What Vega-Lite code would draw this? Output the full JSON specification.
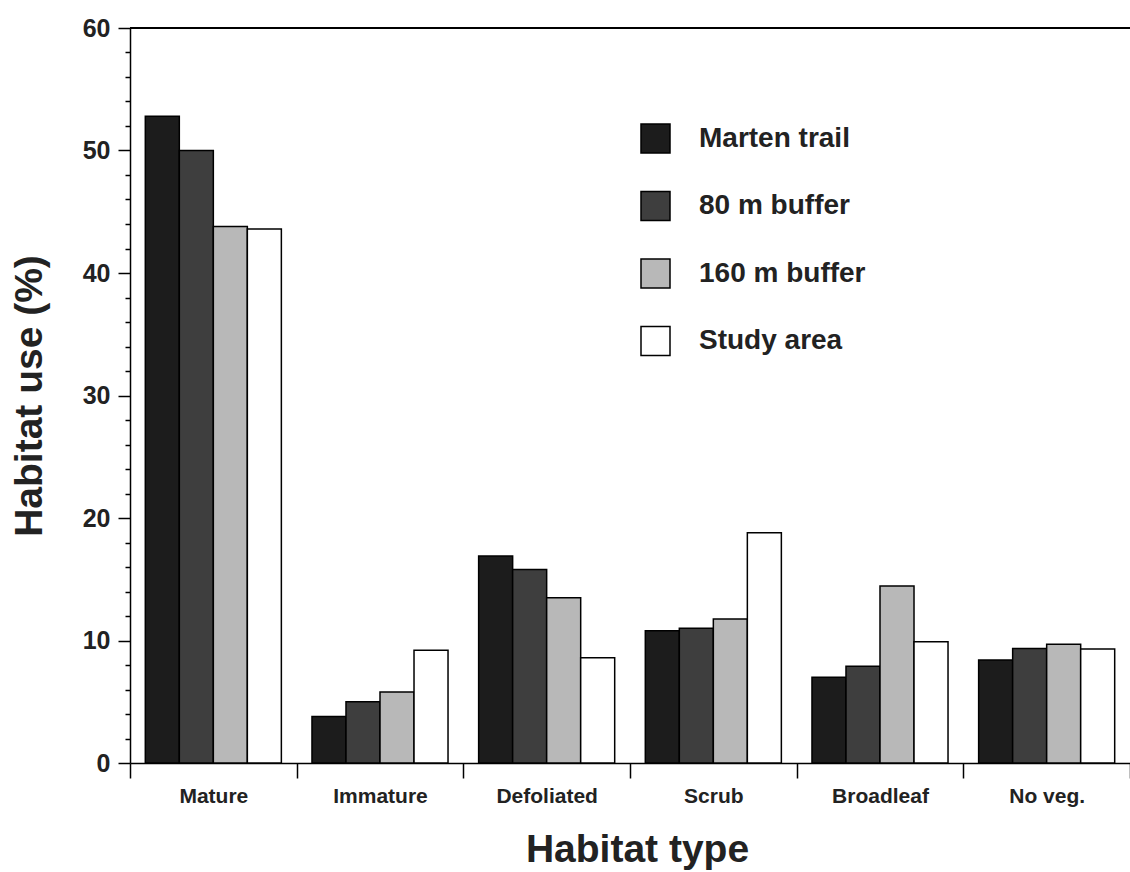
{
  "$schema": "https://vega.github.io/schema/vega-lite/v6.json",
  "autosize": {"type": "none"},
  "padding": {"left": 130, "top": 28, "right": 0, "bottom": 109},
  "width": 1000,
  "height": 735,
  "background": "white",
  "config": {
    "font": "Liberation Sans",
    "view": {"stroke": null},
    "axis": {"domainColor": "black", "domainWidth": 1.5, "tickColor": "black", "tickWidth": 1.5, "labelColor": "#222", "titleColor": "#222", "labelFontWeight": "bold", "titleFontWeight": "bold", "grid": false}
  },
  "data": {
    "values": [
      {"habitat": "Mature", "series": "Marten trail", "value": 52.8},
      {"habitat": "Mature", "series": "80 m buffer", "value": 50.0},
      {"habitat": "Mature", "series": "160 m buffer", "value": 43.8},
      {"habitat": "Mature", "series": "Study area", "value": 43.6},
      {"habitat": "Immature", "series": "Marten trail", "value": 3.8},
      {"habitat": "Immature", "series": "80 m buffer", "value": 5.0},
      {"habitat": "Immature", "series": "160 m buffer", "value": 5.8},
      {"habitat": "Immature", "series": "Study area", "value": 9.2},
      {"habitat": "Defoliated", "series": "Marten trail", "value": 16.9},
      {"habitat": "Defoliated", "series": "80 m buffer", "value": 15.8},
      {"habitat": "Defoliated", "series": "160 m buffer", "value": 13.5},
      {"habitat": "Defoliated", "series": "Study area", "value": 8.6},
      {"habitat": "Scrub", "series": "Marten trail", "value": 10.8},
      {"habitat": "Scrub", "series": "80 m buffer", "value": 11.0},
      {"habitat": "Scrub", "series": "160 m buffer", "value": 11.75},
      {"habitat": "Scrub", "series": "Study area", "value": 18.8},
      {"habitat": "Broadleaf", "series": "Marten trail", "value": 7.0},
      {"habitat": "Broadleaf", "series": "80 m buffer", "value": 7.9},
      {"habitat": "Broadleaf", "series": "160 m buffer", "value": 14.45},
      {"habitat": "Broadleaf", "series": "Study area", "value": 9.9},
      {"habitat": "No veg.", "series": "Marten trail", "value": 8.4},
      {"habitat": "No veg.", "series": "80 m buffer", "value": 9.35},
      {"habitat": "No veg.", "series": "160 m buffer", "value": 9.7},
      {"habitat": "No veg.", "series": "Study area", "value": 9.3}
    ]
  },
  "layer": [
    {
      "mark": {"type": "bar", "stroke": "black", "strokeWidth": 1.5, "cornerRadius": 0},
      "encoding": {
        "x": {
          "field": "habitat", "type": "nominal", "sort": null,
          "scale": {"paddingInner": 0, "paddingOuter": 0},
          "axis": {
            "title": "Habitat type", "titleFontSize": 39, "titlePadding": 24, "titleX": 507,
            "labelAngle": 0, "labelFontSize": 21, "labelPadding": 7,
            "tickBand": "extent", "tickSize": 15
          }
        },
        "xOffset": {
          "field": "series", "type": "nominal", "sort": ["Marten trail", "80 m buffer", "160 m buffer", "Study area"],
          "scale": {"paddingInner": 0, "paddingOuter": 0.45}
        },
        "y": {
          "field": "value", "type": "quantitative",
          "scale": {"domain": [0, 60], "nice": false},
          "axis": {
            "title": "Habitat use (%)", "titleFontSize": 39, "titlePadding": 33,
            "values": [0, 2, 4, 6, 8, 10, 12, 14, 16, 18, 20, 22, 24, 26, 28, 30, 32, 34, 36, 38, 40, 42, 44, 46, 48, 50, 52, 54, 56, 58, 60],
            "labelExpr": "datum.value % 10 === 0 ? datum.label : ''",
            "labelOverlap": false,
            "tickSize": {"condition": {"test": "datum.value % 10 === 0", "value": 12}, "value": 5},
            "labelFontSize": 25, "labelPadding": 8
          }
        },
        "fill": {
          "field": "series", "type": "nominal",
          "sort": ["Marten trail", "80 m buffer", "160 m buffer", "Study area"],
          "scale": {"domain": ["Marten trail", "80 m buffer", "160 m buffer", "Study area"], "range": ["#1c1c1c", "#3e3e3e", "#b8b8b8", "#ffffff"]},
          "legend": {
            "title": null, "orient": "none", "legendX": 510, "legendY": 95,
            "symbolType": "square", "symbolSize": 841, "symbolStrokeColor": "black", "symbolStrokeWidth": 1.5, "symbolOpacity": 1,
            "labelFontSize": 28, "labelFontWeight": "bold", "labelColor": "#222", "labelOffset": 28, "labelLimit": 400, "rowPadding": 32.5
          }
        }
      }
    },
    {
      "mark": {"type": "rule", "color": "black", "strokeWidth": 1.5},
      "encoding": {
        "y": {
          "datum": 60, "type": "quantitative",
          "axis": {
            "title": "Habitat use (%)", "titleFontSize": 39, "titlePadding": 33,
            "values": [0, 2, 4, 6, 8, 10, 12, 14, 16, 18, 20, 22, 24, 26, 28, 30, 32, 34, 36, 38, 40, 42, 44, 46, 48, 50, 52, 54, 56, 58, 60],
            "labelExpr": "datum.value % 10 === 0 ? datum.label : ''",
            "labelOverlap": false,
            "tickSize": {"condition": {"test": "datum.value % 10 === 0", "value": 12}, "value": 5},
            "labelFontSize": 25, "labelPadding": 8
          }
        }
      }
    }
  ]
}
